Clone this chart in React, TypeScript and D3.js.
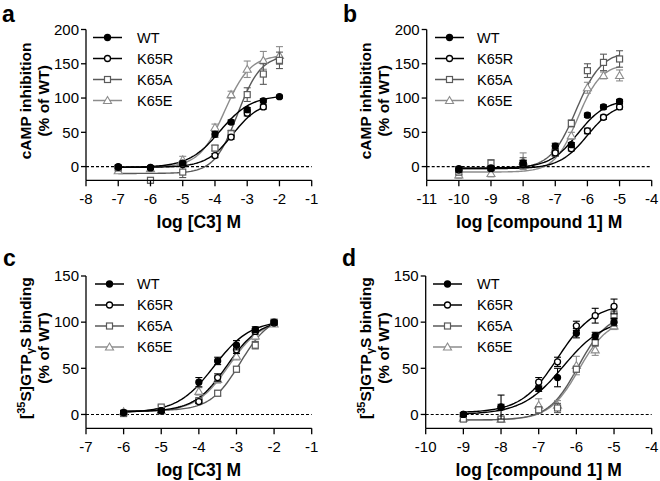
import React from "react";
import * as d3 from "d3";

// ---------- data ----------
const SERIES_NAMES = ["WT", "K65R", "K65A", "K65E"];

// Panel a: cAMP inhibition vs log [C3]
const A_X = [-7, -6, -5, -4, -3.5, -3, -2.5, -2];
const A_X_K65R = [-7, -6, -5, -4, -3.5, -3, -2.5];
const A_WT = [0, -1, 5, 47, 65, 83, 96, 102];
const A_WT_ERR = [2, 2, 3, 4, 3, 3, 3, 2];
const A_K65R = [-1, -2, 3, 16, 43, 78, 87];
const A_K65R_ERR = [2, 2, 3, 3, 3, 4, 3];
const A_K65A = [-2, -20, -8, 27, 48, 105, 135, 155];
const A_K65A_ERR = [3, 4, 8, 4, 5, 10, 15, 12];
const A_K65E = [-6, -3, 10, 57, 105, 142, 155, 162];
const A_K65E_ERR = [3, 3, 5, 5, 5, 12, 13, 13];
// fitted curves: [bottom, top, logEC50, hill]
const A_FIT_WT = [-1, 104, -3.85, 0.9];
const A_FIT_K65R = [-1, 95, -3.45, 1.05];
const A_FIT_K65A = [-10, 163, -3.3, 1.2];
const A_FIT_K65E = [-1, 163, -3.7, 1.1];

// Panel b: cAMP inhibition vs log [compound 1]
const B_X = [-10, -9, -8, -7, -6.5, -6, -5.5, -5];
const B_WT = [-3, -2, 5, 30, 32, 75, 87, 95];
const B_WT_ERR = [3, 3, 4, 4, 3, 3, 3, 3];
const B_K65R = [-5, -3, 3, 20, 26, 52, 72, 87];
const B_K65R_ERR = [3, 3, 3, 3, 3, 4, 3, 3];
const B_K65A = [-8, 5, 5, 20, 63, 140, 152, 157];
const B_K65A_ERR = [4, 5, 8, 5, 5, 10, 12, 12];
const B_K65E = [-12, -10, 8, 25, 45, 115, 133, 133];
const B_K65E_ERR = [5, 5, 12, 5, 5, 8, 5, 8];
const B_FIT_WT = [-2, 98, -6.3, 1];
const B_FIT_K65R = [-3, 94, -6.0, 1];
const B_FIT_K65A = [-3, 168, -6.35, 1.1];
const B_FIT_K65E = [-8, 150, -6.3, 1.2];

// Panel c: [35S]GTPγS binding vs log [C3]
const C_X = [-6, -5, -4, -3.5, -3, -2.5, -2];
const C_WT = [2, 4, 35, 58, 75, 92, 100];
const C_WT_ERR = [2, 2, 5, 4, 5, 3, 2];
const C_K65R = [2, 4, 14, 40, 70, 90, 99];
const C_K65R_ERR = [2, 2, 2, 4, 4, 3, 2];
const C_K65A = [1, 8, 15, 23, 49, 75, 100];
const C_K65A_ERR = [2, 2, 2, 3, 3, 4, 2];
const C_K65E = [3, 4, 25, 38, 63, 85, 98];
const C_K65E_ERR = [2, 2, 4, 4, 4, 4, 2];
const C_FIT_WT = [2, 102, -3.6, 0.9];
const C_FIT_K65R = [3, 103, -3.25, 1];
const C_FIT_K65A = [4, 108, -2.9, 1.1];
const C_FIT_K65E = [3, 103, -3.2, 1];

// Panel d: [35S]GTPγS binding vs log [compound 1]
const D_X = [-9, -8, -7, -6.5, -6, -5.5, -5];
const D_WT = [0, 8, 28, 40, 88, 85, 100];
const D_WT_ERR = [2, 13, 3, 10, 5, 4, 4];
const D_K65R = [0, 8, 35, 57, 96, 107, 117];
const D_K65R_ERR = [2, 3, 5, 5, 5, 8, 8];
const D_K65A = [-5, -5, 5, 7, 49, 78, 108];
const D_K65A_ERR = [2, 2, 3, 5, 3, 4, 5];
const D_K65E = [-4, -5, 10, 10, 53, 70, 96];
const D_K65E_ERR = [2, 2, 7, 5, 10, 6, 4];
const D_FIT_WT = [0, 104, -6.35, 0.8];
const D_FIT_K65R = [2, 120, -6.5, 0.9];
const D_FIT_K65A = [-6, 110, -5.95, 1.1];
const D_FIT_K65E = [-6, 104, -5.93, 1.1];

// axis ticks
const A_XTICKS = [-8, -7, -6, -5, -4, -3, -2, -1];
const B_XTICKS = [-11, -10, -9, -8, -7, -6, -5, -4];
const C_XTICKS = [-7, -6, -5, -4, -3, -2, -1];
const D_XTICKS = [-10, -9, -8, -7, -6, -5, -4];
const AB_YTICKS = [0, 50, 100, 150, 200];
const CD_YTICKS = [0, 50, 100, 150];

// ---------- styling ----------
const STYLE: Record<string, { color: string; fill: string; shape: string }> = {
  WT: { color: "#000", fill: "#000", shape: "circle" },
  K65R: { color: "#000", fill: "#fff", shape: "circle" },
  K65A: { color: "#5a5a5a", fill: "#fff", shape: "square" },
  K65E: { color: "#8c8c8c", fill: "#fff", shape: "triangle" },
};
const FONT = "'Liberation Sans', Arial, Helvetica, sans-serif";

type Series = { name: string; x: number[]; y: number[]; err: number[]; fit: number[] };

function hill(p: number[], x: number) {
  const [b, t, ec, h] = p;
  return b + (t - b) / (1 + Math.pow(10, (ec - x) * h));
}

function Marker({ name, cx, cy }: { name: string; cx: number; cy: number }) {
  const s = STYLE[name];
  if (s.shape === "circle")
    return <circle cx={cx} cy={cy} r={3} fill={s.fill} stroke={s.color} strokeWidth={1.3} />;
  if (s.shape === "square")
    return <rect x={cx - 3} y={cy - 3} width={6} height={6} fill={s.fill} stroke={s.color} strokeWidth={1.2} />;
  const tri = d3.symbol().type(d3.symbolTriangle).size(28)();
  return <path d={tri || ""} transform={`translate(${cx},${cy + 0.7})`} fill={s.fill} stroke={s.color} strokeWidth={1.1} />;
}

type PanelProps = {
  letter: string;
  letterX: number;
  letterY: number;
  xDomain: [number, number];
  xRange: [number, number];
  yDomain: [number, number];
  yRange: [number, number];
  xTicks: number[];
  yTicks: number[];
  series: Series[];
  xTitle: string;
  yTitle1: React.ReactNode;
  yTitleX: [number, number];
  legendX: number;
  legendTextX: number;
};

function Panel(p: PanelProps) {
  const x = d3.scaleLinear().domain(p.xDomain).range(p.xRange);
  const y = d3.scaleLinear().domain(p.yDomain).range(p.yRange);
  const x0 = p.xRange[0];
  const x1 = p.xRange[1];
  const yBottom = p.yRange[0];
  const yTop = p.yRange[1];
  const yMid = (yBottom + yTop) / 2;
  const order = ["K65E", "K65A", "K65R", "WT"];
  const sorted = order.map((n) => p.series.find((s) => s.name === n)!).filter(Boolean);
  return (
    <g fontFamily={FONT}>
      <text x={p.letterX} y={p.letterY} fontSize={23} fontWeight="bold">
        {p.letter}
      </text>
      {/* zero dashed line */}
      <line x1={x0} x2={x1} y1={y(0)} y2={y(0)} stroke="#000" strokeWidth={1.1} strokeDasharray="3,2" />
      {/* curves */}
      {sorted.map((s) => {
        const xs = d3.range(s.x[0], s.x[s.x.length - 1] + 0.0001, 0.05);
        const pts = xs.map((v) => [x(v), y(hill(s.fit, v))] as [number, number]);
        const path = d3.line()(pts);
        return <path key={"c" + s.name} d={path || ""} fill="none" stroke={STYLE[s.name].color} strokeWidth={1.4} />;
      })}
      {/* error bars + markers */}
      {sorted.map((s) => (
        <g key={"p" + s.name}>
          {s.x.map((xv, i) => {
            const cx = x(xv);
            const yt = y(s.y[i] + s.err[i]);
            const yb = y(s.y[i] - s.err[i]);
            return (
              <g key={i} stroke={STYLE[s.name].color} strokeWidth={1.1}>
                <line x1={cx} x2={cx} y1={yt} y2={yb} />
                <line x1={cx - 3.5} x2={cx + 3.5} y1={yt} y2={yt} />
                <line x1={cx - 3.5} x2={cx + 3.5} y1={yb} y2={yb} />
              </g>
            );
          })}
          {s.x.map((xv, i) => (
            <Marker key={"m" + i} name={s.name} cx={x(xv)} cy={y(s.y[i])} />
          ))}
        </g>
      ))}
      {/* axes */}
      <line x1={x0} x2={x0} y1={yTop} y2={yBottom} stroke="#000" strokeWidth={1.3} />
      <line x1={x0} x2={x1} y1={yBottom} y2={yBottom} stroke="#000" strokeWidth={1.3} />
      {p.yTicks.map((t) => (
        <g key={"yt" + t}>
          <line x1={x0 - 5} x2={x0} y1={y(t)} y2={y(t)} stroke="#000" strokeWidth={1.3} />
          <text x={x0 - 7} y={y(t) + 5.2} fontSize={15} textAnchor="end">
            {t}
          </text>
        </g>
      ))}
      {p.xTicks.map((t) => (
        <g key={"xt" + t}>
          <line x1={x(t)} x2={x(t)} y1={yBottom} y2={yBottom + 6} stroke="#000" strokeWidth={1.3} />
          <text x={x(t)} y={yBottom + 24} fontSize={15} textAnchor="middle">
            {"-" + Math.abs(t)}
          </text>
        </g>
      ))}
      <text x={(x0 + x1) / 2} y={yBottom + 48} fontSize={17.5} fontWeight="bold" textAnchor="middle">
        {p.xTitle}
      </text>
      <g transform={`translate(${p.yTitleX[0]},${yMid - 4}) rotate(-90)`}>
        <text fontSize={15.5} fontWeight="bold" textAnchor="middle">
          {p.yTitle1}
        </text>
      </g>
      <g transform={`translate(${p.yTitleX[1]},${yMid - 4}) rotate(-90)`}>
        <text fontSize={15.5} fontWeight="bold" textAnchor="middle">
          (% of WT)
        </text>
      </g>
      {/* legend */}
      {SERIES_NAMES.map((n, i) => {
        const ly = yTop + 8 + i * 21;
        return (
          <g key={"lg" + n}>
            <line x1={p.legendX} x2={p.legendX + 29} y1={ly} y2={ly} stroke={STYLE[n].color} strokeWidth={1.5} />
            <Marker name={n} cx={p.legendX + 14.5} cy={ly} />
            <text x={p.legendTextX} y={ly + 5} fontSize={14.5}>
              {n}
            </text>
          </g>
        );
      })}
    </g>
  );
}

function mk(names: string[], xs: number[][], ys: number[][], errs: number[][], fits: number[][]): Series[] {
  return names.map((n, i) => ({ name: n, x: xs[i], y: ys[i], err: errs[i], fit: fits[i] }));
}

export default function App() {
  const aSeries = mk(
    SERIES_NAMES,
    [A_X, A_X_K65R, A_X, A_X],
    [A_WT, A_K65R, A_K65A, A_K65E],
    [A_WT_ERR, A_K65R_ERR, A_K65A_ERR, A_K65E_ERR],
    [A_FIT_WT, A_FIT_K65R, A_FIT_K65A, A_FIT_K65E]
  );
  const bSeries = mk(
    SERIES_NAMES,
    [B_X, B_X, B_X, B_X],
    [B_WT, B_K65R, B_K65A, B_K65E],
    [B_WT_ERR, B_K65R_ERR, B_K65A_ERR, B_K65E_ERR],
    [B_FIT_WT, B_FIT_K65R, B_FIT_K65A, B_FIT_K65E]
  );
  const cSeries = mk(
    SERIES_NAMES,
    [C_X, C_X, C_X, C_X],
    [C_WT, C_K65R, C_K65A, C_K65E],
    [C_WT_ERR, C_K65R_ERR, C_K65A_ERR, C_K65E_ERR],
    [C_FIT_WT, C_FIT_K65R, C_FIT_K65A, C_FIT_K65E]
  );
  const dSeries = mk(
    SERIES_NAMES,
    [D_X, D_X, D_X, D_X],
    [D_WT, D_K65R, D_K65A, D_K65E],
    [D_WT_ERR, D_K65R_ERR, D_K65A_ERR, D_K65E_ERR],
    [D_FIT_WT, D_FIT_K65R, D_FIT_K65A, D_FIT_K65E]
  );
  const gtpTitle = (
    <>
      [<tspan fontSize={11} dy={-6}>35</tspan>
      <tspan dy={6}>S]GTP</tspan>
      <tspan fontSize={11} dy={3}>γ</tspan>
      <tspan dy={-3}>S binding</tspan>
    </>
  );
  return (
    <div style={{ position: "absolute", left: 0, top: 0, width: 660, height: 481, background: "#fff" }}>
      <svg width={660} height={481} viewBox="0 0 660 481">
        <rect width={660} height={481} fill="#fff" />
        <Panel
          letter="a"
          letterX={2}
          letterY={22}
          xDomain={[-8, -1]}
          xRange={[86, 311.7]}
          yDomain={[-20, 200]}
          yRange={[180.3, 29.5]}
          xTicks={A_XTICKS}
          yTicks={AB_YTICKS}
          series={aSeries}
          xTitle="log [C3] M"
          yTitle1="cAMP inhibition"
          yTitleX={[31, 49]}
          legendX={93}
          legendTextX={137}
        />
        <Panel
          letter="b"
          letterX={343}
          letterY={22}
          xDomain={[-11, -4]}
          xRange={[426.7, 651.7]}
          yDomain={[-20, 200]}
          yRange={[180.3, 29.5]}
          xTicks={B_XTICKS}
          yTicks={AB_YTICKS}
          series={bSeries}
          xTitle="log [compound 1] M"
          yTitle1="cAMP inhibition"
          yTitleX={[371, 389]}
          legendX={435}
          legendTextX={477}
        />
        <Panel
          letter="c"
          letterX={3}
          letterY={266}
          xDomain={[-7, -1]}
          xRange={[86, 311.7]}
          yDomain={[-15, 150]}
          yRange={[428.3, 276]}
          xTicks={C_XTICKS}
          yTicks={CD_YTICKS}
          series={cSeries}
          xTitle="log [C3] M"
          yTitle1={gtpTitle}
          yTitleX={[31, 49]}
          legendX={95}
          legendTextX={137}
        />
        <Panel
          letter="d"
          letterX={342}
          letterY={266}
          xDomain={[-10, -4]}
          xRange={[425.7, 651.7]}
          yDomain={[-15, 150]}
          yRange={[428.3, 276]}
          xTicks={D_XTICKS}
          yTicks={CD_YTICKS}
          series={dSeries}
          xTitle="log [compound 1] M"
          yTitle1={gtpTitle}
          yTitleX={[371, 389]}
          legendX={433}
          legendTextX={477}
        />
      </svg>
    </div>
  );
}
